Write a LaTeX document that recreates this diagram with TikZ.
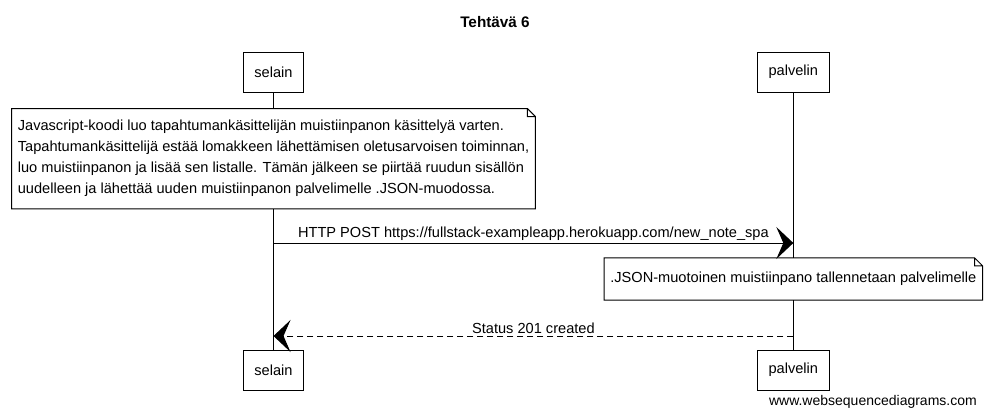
\documentclass[tikz,border=0pt]{standalone}
\usepackage{fontspec}
\setmainfont{Liberation Sans}
\usetikzlibrary{positioning}
\usetikzlibrary{arrows.meta}

\begin{document}
\begin{tikzpicture}[x=1pt, y=-1pt,
            font=\fontsize{14.6}{21}\selectfont,
            node distance = 16pt,
            actor/.style = {draw,fill=white,line width=1pt,
                inner xsep=11pt,minimum height=40pt},
            note/.style = {fill=white,align=left,inner xsep=6pt},
            life/.style = {line width=0.9pt},
            msg/.style = {line width=1pt,
                -{Stealth[length=17pt,width=32pt,inset=7pt]}},
            reply/.style = {msg,dash pattern=on 6pt off 4pt},
            lbl/.style = {above,inner sep=2pt}]
            \useasboundingbox (0,0) rectangle (990,415);
            \node[font=\fontsize{15.3}{18}\selectfont\bfseries] (title) at (495,22) {Tehtävä 6};
            % osapuolet
            \node[actor] (s1) at (273.5,72) {selain};
            \node[actor, right=453pt of s1] (p1) {palvelin};
            \node[actor, below=257pt of s1] (s2) {selain};
            \node[actor, below=257pt of p1] (p2) {palvelin};
            \draw[life] (s1) -- (s2);
            \draw[life] (p1) -- (p2);
            % muistiinpanot
            \node[note, below=16pt of s1, minimum height=100pt] (n1)
                {Javascript-koodi luo tapahtumankäsittelijän muistiinpanon käsittelyä varten.\\
                 Tapahtumankäsittelijä estää lomakkeen lähettämisen oletusarvoisen toiminnan,\\
                 luo muistiinpanon ja lisää sen listalle. Tämän jälkeen se piirtää ruudun sisällön\\
                 uudelleen ja lähettää uuden muistiinpanon palvelimelle .JSON-muodossa.};
            \coordinate (r2) at (0,279);
            \node[note, minimum height=42pt] (n2) at (p1 |- r2)
                {.JSON-muotoinen muistiinpano tallennetaan palvelimelle};
            \foreach \n in {n1,n2}
                \draw[line width=1pt] (\n.north west) -- ([xshift=-8pt]\n.north east)
                    -- ([yshift=-8pt]\n.north east) -- (\n.south east) -- (\n.south west) -- cycle
                    ([xshift=-8pt]\n.north east) |- ([yshift=-8pt]\n.north east);
            % viestit
            \coordinate (m1) at (0,243);
            \coordinate (m2) at (0,336);
            \draw[msg] (s1 |- m1) -- node[lbl] {HTTP POST https://fullstack-exampleapp.herokuapp.com/new\_note\_spa} (p1 |- m1);
            \draw[reply] (p1 |- m2) -- node[lbl] {Status 201 created} (s1 |- m2);
            \node[anchor=east, inner sep=0pt, font=\fontsize{14}{16}\selectfont] (wm) at (977,402) {www.websequencediagrams.com};
        \end{tikzpicture}
\end{document}
